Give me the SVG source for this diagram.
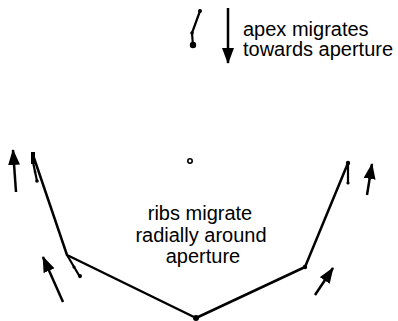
<svg xmlns="http://www.w3.org/2000/svg" width="398" height="321" viewBox="0 0 398 321">
<defs>
<style>
.ln{fill:none;stroke:#000;stroke-width:2.5;stroke-linejoin:round;stroke-linecap:round}
.thin{fill:none;stroke:#000;stroke-width:2.2;stroke-linecap:round}
.arr{fill:none;stroke:#000;stroke-width:2.5;marker-end:url(#ah)}
.dot{fill:#000}
text{font-family:"Liberation Sans",Arial,Helvetica,sans-serif;font-size:20px;fill:#000}
</style>
<marker id="ah" markerUnits="userSpaceOnUse" markerWidth="17" markerHeight="12" refX="15" refY="6" orient="auto">
<path d="M0,0 L16,6 L0,12 Z" fill="#000"/>
</marker>
</defs>
<rect width="398" height="321" fill="#fff"/>
<g id="apex">
<polyline class="thin" points="200,11 192,33 193,46"/>
<circle class="dot" cx="200" cy="11" r="2"/>
<circle class="dot" cx="192" cy="33" r="1.8"/>
<circle class="dot" cx="193" cy="45" r="3.2"/>
</g>
<g id="aperture">
<circle cx="190" cy="161" r="2.2" fill="none" stroke="#000" stroke-width="1.6"/>
</g>
<g id="ribs">
<polyline class="ln" points="33,155 67,255 196,318 305,267 348,163"/>
<rect x="31" y="152" width="4" height="12" fill="#000"/>
<polyline class="thin" points="33,162 37,181"/>
<circle class="dot" cx="37" cy="181" r="1.8"/>
<circle class="dot" cx="35" cy="172" r="1.3"/>
<polyline class="thin" points="67,255 80,277"/>
<circle class="dot" cx="74" cy="267" r="1.6"/>
<circle class="dot" cx="80" cy="276" r="2"/>
<circle class="dot" cx="196" cy="318" r="3"/>
<circle class="dot" cx="305" cy="267" r="2.2"/>
<polyline class="thin" points="348,163 348,183"/>
<circle class="dot" cx="348" cy="183" r="1.6"/>
<circle class="dot" cx="348" cy="163" r="2.2"/>
</g>
<g id="connectors">
<line class="arr" x1="228" y1="8" x2="228" y2="63"/>
<line class="arr" x1="16" y1="192" x2="13" y2="150"/>
<line class="arr" x1="63" y1="302" x2="43" y2="257"/>
<line class="arr" x1="315" y1="295" x2="333" y2="268"/>
<line class="arr" x1="367" y1="195" x2="372" y2="164"/>
</g>
<g id="labels">
<text x="243" y="36">apex migrates</text>
<text x="243" y="56">towards aperture</text>
<text x="200" y="220" text-anchor="middle">ribs migrate</text>
<text x="201" y="241.5" text-anchor="middle">radially around</text>
<text x="203" y="263" text-anchor="middle">aperture</text>
</g>
</svg>
